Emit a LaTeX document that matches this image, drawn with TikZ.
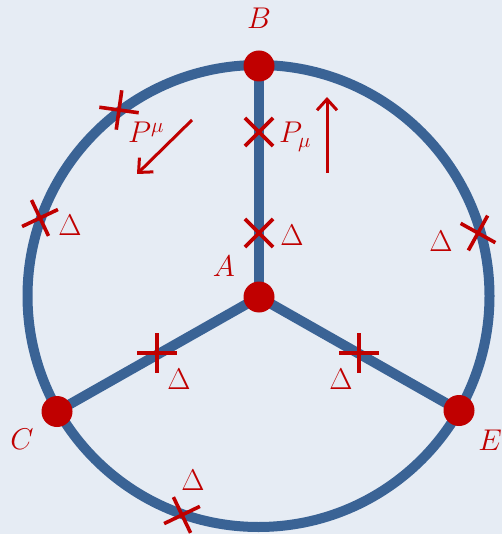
\RequirePackage{fix-cm}
\documentclass[tikz,border=0pt]{standalone}
\usetikzlibrary{shapes.misc,arrows.meta}
\definecolor{bgcol}{HTML}{E6ECF4}
\definecolor{linecol}{HTML}{3A6395}
\definecolor{redcol}{HTML}{C00000}
\tikzset{
  edge/.style={draw=linecol,line width=10pt},
  dot/.style={circle,fill=redcol,minimum size=31pt,inner sep=0pt},
  xmark/.style={cross out,draw=redcol,line width=3.6pt,minimum size=24.5pt,inner sep=0pt},
  lab/.style={text=redcol,font=\fontsize{30}{36}\selectfont,inner sep=0pt},
  marrow/.style={draw=redcol,line width=3pt,-{Straight Barb[length=11pt,width=20pt,line width=3pt]}}
}
\begin{document}
\begin{tikzpicture}[x=1pt,y=-1pt]
\fill[bgcol] (0,0) rectangle (502,534);
\useasboundingbox (0,0) rectangle (502,534);
\coordinate (O) at (258.5,296);
\coordinate (a) at (259,297);
\coordinate (b) at (259,66);
\coordinate (c) at (57,411.5);
\coordinate (e) at (459,410.5);
\draw[edge] (O) circle[radius=231];
\draw[edge] (a) -- (b);
\draw[edge] (a) -- (c);
\draw[edge] (a) -- (e);
\node[dot] (A) at (a) {};
\node[dot] (B) at (b) {};
\node[dot] (C) at (c) {};
\node[dot] (E) at (e) {};
% crosses
\node[xmark,rotate=127] (m1) at (119,110) {};
\node[xmark] (m2) at (259,132) {};
\node[xmark] (m3) at (259,233) {};
\node[xmark,rotate=160.4] (m4) at (40,218) {};
\node[xmark,rotate=16] (m5) at (478,233) {};
\node[xmark,rotate=45] (m6) at (157,353) {};
\node[xmark,rotate=45] (m7) at (359,353) {};
\node[xmark,rotate=-109.3] (m8) at (182,515) {};
% labels
\node[lab] (lB) at (259,18) {$B$};
\node[lab] (lA) at (224,266) {$A$};
\node[lab] (lC) at (22,439) {$C$};
\node[lab] (lE) at (490,440) {$E$};
\node[lab,anchor=base west] (lPl) at (279,143) {$P_\mu$};
\node[lab,anchor=base west] (lPu) at (128,143) {$P^\mu$};
\node[lab] (d1) at (70,225) {$\Delta$};
\node[lab] (d2) at (292,235) {$\Delta$};
\node[lab] (d3) at (441,241) {$\Delta$};
\node[lab] (d4) at (179,379) {$\Delta$};
\node[lab] (d5) at (341,379) {$\Delta$};
\node[lab] (d6) at (193,480) {$\Delta$};
% momentum arrows
\coordinate (u1) at (327,173);
\coordinate (u2) at (327,97);
\coordinate (v1) at (192,120);
\coordinate (v2) at (137,174);
\draw[marrow] (u1) -- (u2);
\draw[marrow] (v1) -- (v2);
\end{tikzpicture}
\end{document}
